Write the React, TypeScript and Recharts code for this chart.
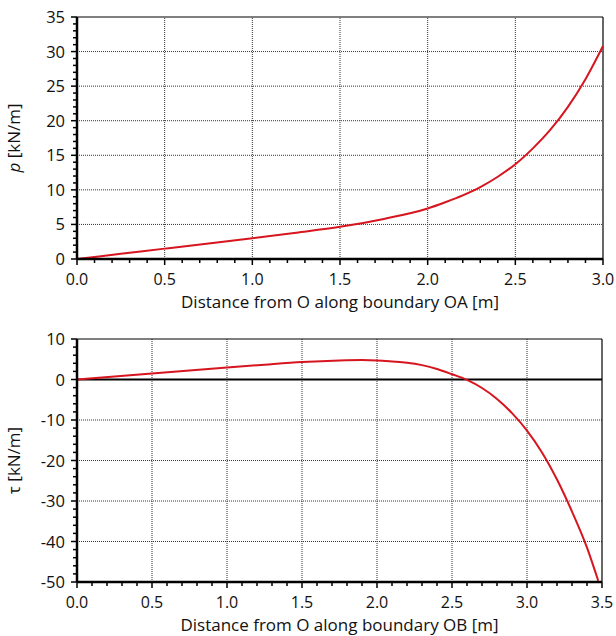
import { LineChart, Line, XAxis, YAxis, ReferenceLine, Label } from 'recharts';

// boundary OA: normal pressure p
const oaX = [0, 0.25, 0.5, 0.75, 1.0, 1.25, 1.5, 1.75, 2.0, 2.1, 2.2, 2.3, 2.4, 2.5, 2.6, 2.7, 2.8, 2.9, 3.0];
const oaP = [0, 0.75, 1.5, 2.25, 3.0, 3.8, 4.65, 5.8, 7.3, 8.2, 9.2, 10.4, 11.9, 13.7, 16.0, 18.7, 22.0, 26.0, 30.8];

// boundary OB: shear tau
const obX = [0, 0.25, 0.5, 0.75, 1.0, 1.25, 1.5, 1.75, 1.9, 2.0, 2.1, 2.2, 2.3, 2.4, 2.5, 2.6, 2.7, 2.8, 2.9, 3.0, 3.1, 3.2, 3.3, 3.4, 3.475];
const obTau = [0, 0.75, 1.5, 2.2, 2.95, 3.65, 4.3, 4.7, 4.8, 4.7, 4.45, 4.15, 3.55, 2.6, 1.3, -0.1, -2.1, -4.8, -8.3, -12.6, -18.0, -24.7, -32.6, -41.5, -49.7];

// axis ticks
const oaMajorX = [0, 0.5, 1.0, 1.5, 2.0, 2.5, 3.0];
const obMajorX = [0, 0.5, 1.0, 1.5, 2.0, 2.5, 3.0, 3.5];
const pMajor = [0, 5, 10, 15, 20, 25, 30, 35];
const tauMajor = [-50, -40, -30, -20, -10, 0, 10];

const oaGridX = [0.5, 1.0, 1.5, 2.0, 2.5];
const obGridX = [0.5, 1.0, 1.5, 2.0, 2.5, 3.0];
const pGrid = [5, 10, 15, 20, 25, 30];
const tauGrid = [-40, -30, -20, -10];

const steps = (from: number, to: number, step: number) =>
  Array.from({ length: Math.round((to - from) / step) + 1 }, (_, i) => +(from + i * step).toFixed(3));

const FONT = '"Open Sans", sans-serif';
const RED = '#d7151f';
const gridStyle = { stroke: '#333', strokeDasharray: '1 1', strokeWidth: 1 };

const oaData = oaX.map((x, i) => ({ x, p: oaP[i] }));
const obData = obX.map((x, i) => ({ x, tau: obTau[i] }));

const isIn = (v: number, list: number[]) => list.some(m => Math.abs(m - v) < 1e-6);

function makeXTick(majors: number[]) {
  return (props: any) => {
    const { x, y, payload } = props;
    const major = isIn(payload.value, majors);
    return (
      <g>
        <line x1={x} y1={y} x2={x} y2={y + (major ? 6 : 4)} stroke="#000" strokeWidth={1.5} />
        {major && (
          <text x={x} y={y + 26} textAnchor="middle" fontSize={16} fontFamily={FONT} fill="#111">
            {payload.value.toFixed(1)}
          </text>
        )}
      </g>
    );
  };
}

function makeYTick(majors: number[]) {
  return (props: any) => {
    const { x, y, payload } = props;
    const major = isIn(payload.value, majors);
    return (
      <g>
        <line x1={x - (major ? 6 : 4)} y1={y} x2={x} y2={y} stroke="#000" strokeWidth={1.5} />
        {major && (
          <text x={x - 12} y={y + 6} textAnchor="end" fontSize={16.5} fontFamily={FONT} fill="#111">
            {payload.value}
          </text>
        )}
      </g>
    );
  };
}

function xTitle(text: string) {
  return (props: any) => {
    const { viewBox } = props;
    return (
      <text x={viewBox.x + viewBox.width / 2} y={viewBox.y + 49} textAnchor="middle" fontSize={17} fontFamily={FONT} fill="#111">
        {text}
      </text>
    );
  };
}

function yTitle(sym: string, italic: boolean) {
  return (props: any) => {
    const { viewBox } = props;
    const cy = viewBox.y + viewBox.height / 2;
    return (
      <text x={20} y={cy} transform={`rotate(-90 20 ${cy})`} textAnchor="middle" fontSize={17} fontFamily={FONT} fill="#111">
        <tspan fontStyle={italic ? 'italic' : 'normal'}>{sym}</tspan> [kN/m]
      </text>
    );
  };
}

const axisLine = { stroke: '#000', strokeWidth: 2.5 };

export default function App() {
  return (
    <div style={{ position: 'absolute', left: 0, top: 0, width: 616, height: 636, background: '#fff' }}>
      <div style={{ position: 'absolute', left: 0, top: 0 }}>
        <LineChart width={616} height={320} data={oaData} margin={{ top: 17, right: 13, bottom: 0, left: 0 }}>
          {oaGridX.map(v => <ReferenceLine key={'vx' + v} x={v} {...gridStyle} />)}
          {pGrid.map(v => <ReferenceLine key={'hy' + v} y={v} {...gridStyle} />)}
          <ReferenceLine y={35} stroke="#000" strokeWidth={1.2} />
          <ReferenceLine x={3} stroke="#000" strokeWidth={1.2} />
          <XAxis dataKey="x" type="number" domain={[0, 3]} ticks={steps(0, 3, 0.1)} interval={0}
            height={61} tickSize={0} tickMargin={0} tick={makeXTick(oaMajorX)} axisLine={axisLine} tickLine={false}>
            <Label content={xTitle('Distance from O along boundary OA [m]')} />
          </XAxis>
          <YAxis type="number" domain={[0, 35]} ticks={steps(0, 35, 1)} interval={0}
            width={77} tickSize={0} tickMargin={0} tick={makeYTick(pMajor)} axisLine={axisLine} tickLine={false}>
            <Label content={yTitle('p', true)} />
          </YAxis>
          <Line type="monotone" dataKey="p" stroke={RED} strokeWidth={2} dot={false} isAnimationActive={false} />
        </LineChart>
      </div>
      <div style={{ position: 'absolute', left: 0, top: 320 }}>
        <LineChart width={616} height={316} data={obData} margin={{ top: 19, right: 14, bottom: 0, left: 0 }}>
          {obGridX.map(v => <ReferenceLine key={'vx' + v} x={v} {...gridStyle} />)}
          {tauGrid.map(v => <ReferenceLine key={'hy' + v} y={v} {...gridStyle} />)}
          <ReferenceLine y={10} stroke="#000" strokeWidth={1.2} />
          <ReferenceLine x={3.5} stroke="#000" strokeWidth={1.2} />
          <ReferenceLine y={0} stroke="#000" strokeWidth={1.8} />
          <XAxis dataKey="x" type="number" domain={[0, 3.5]} ticks={steps(0, 3.5, 0.1)} interval={0}
            height={54} tickSize={0} tickMargin={0} tick={makeXTick(obMajorX)} axisLine={axisLine} tickLine={false}>
            <Label content={xTitle('Distance from O along boundary OB [m]')} />
          </XAxis>
          <YAxis type="number" domain={[-50, 10]} ticks={steps(-50, 10, 2)} interval={0}
            width={77} tickSize={0} tickMargin={0} tick={makeYTick(tauMajor)} axisLine={axisLine} tickLine={false}>
            <Label content={yTitle('τ', false)} />
          </YAxis>
          <Line type="monotone" dataKey="tau" stroke={RED} strokeWidth={2} dot={false} isAnimationActive={false} />
        </LineChart>
      </div>
    </div>
  );
}
